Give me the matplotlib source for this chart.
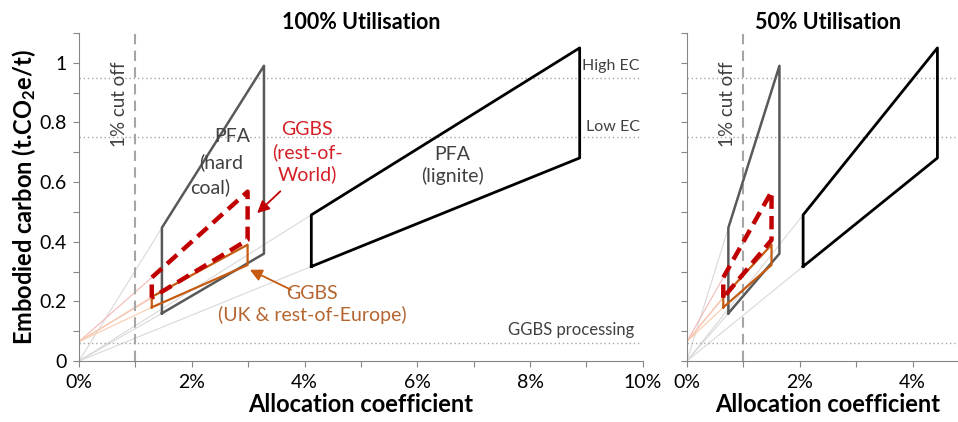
import matplotlib
matplotlib.use("Agg")
import matplotlib.pyplot as plt
from matplotlib.ticker import MultipleLocator, FuncFormatter

plt.rcParams['font.family'] = ['Lato', 'DejaVu Sans']
plt.rcParams['mathtext.default'] = 'regular'

# Data (allocation coefficient in %, embodied carbon in tCO2e/t)
# 100% utilisation
coal_x_100 = [1.47, 1.47, 3.28, 3.28]
coal_y_100 = [0.16, 0.447, 0.99, 0.36]
lignite_x_100 = [4.12, 4.12, 8.88, 8.88]
lignite_y_100 = [0.317, 0.49, 1.05, 0.681]
ggbs_row_x_100 = [1.29, 1.29, 2.99, 2.99]
ggbs_row_y_100 = [0.212, 0.28, 0.568, 0.406]
ggbs_uk_x_100 = [1.29, 1.29, 2.99, 2.99]
ggbs_uk_y_100 = [0.18, 0.215, 0.39, 0.322]

# 50% utilisation
coal_x_50 = [0.735, 0.735, 1.64, 1.64]
coal_y_50 = [0.16, 0.447, 0.99, 0.36]
lignite_x_50 = [2.06, 2.06, 4.44, 4.44]
lignite_y_50 = [0.317, 0.49, 1.05, 0.681]
ggbs_row_x_50 = [0.645, 0.645, 1.5, 1.5]
ggbs_row_y_50 = [0.212, 0.28, 0.568, 0.406]
ggbs_uk_x_50 = [0.645, 0.645, 1.5, 1.5]
ggbs_uk_y_50 = [0.18, 0.215, 0.39, 0.322]

# reference levels
high_ec = 0.95
low_ec = 0.75
ggbs_processing = 0.06
ggbs_origin = 0.065
cut_off = 1.0

GREY = "#595959"
RED = "#C00000"
ORANGE = "#C55A11"
REF = "#A6A6A6"
AX = "#868686"
TXT = "#404040"


def closed(xs, ys):
    return list(xs) + [xs[0]], list(ys) + [ys[0]]


def panel(ax, cx, cy, lx, ly, rx, ry, ux, uy, xmax):
    # faint rays to the left corners
    for x0, y0, xs, ys, c in [(0, 0, cx, cy, "#D9D9D9"), (0, 0, lx, ly, "#D9D9D9"),
                              (0, ggbs_origin, rx, ry, "#F4B8B8"),
                              (0, ggbs_origin, ux, uy, "#F8CBAD")]:
        for i in range(2):
            ax.plot([x0, xs[i]], [y0, ys[i]], color=c, lw=0.8, zorder=1)

    for y in [high_ec, low_ec, ggbs_processing]:
        ax.plot([0, xmax], [y, y], color=REF, lw=1, ls=(0, (1, 2)), zorder=1)
    ax.axvline(cut_off, color=REF, lw=1.5, ls=(0, (5, 3)), zorder=1)

    x, y = closed(cx, cy)
    ax.plot(x, y, color=GREY, lw=1.8, zorder=3)
    x, y = closed(lx, ly)
    ax.plot(x, y, color="black", lw=2, zorder=3)
    x, y = closed(ux, uy)
    ax.plot(x, y, color=ORANGE, lw=1.6, zorder=3)
    x, y = closed(rx, ry)
    ax.plot(x, y, color=RED, lw=3.2, ls=(0, (3, 1.6)), zorder=4)

    ax.set_ylim(0, 1.1)
    ax.yaxis.set_major_locator(MultipleLocator(0.1))
    ax.xaxis.set_major_locator(MultipleLocator(1))
    for s in ["top", "right"]:
        ax.spines[s].set_visible(False)
    for s in ["left", "bottom"]:
        ax.spines[s].set_color(AX)
    ax.tick_params(direction="out", length=4, color=AX, labelsize=14,
                   labelcolor="black", pad=5)
    ax.xaxis.set_major_formatter(FuncFormatter(
        lambda v, p: "%d%%" % round(v) if round(v) % 2 == 0 else ""))
    ax.set_xlabel("Allocation coefficient", fontsize=17, fontweight="bold",
                  labelpad=2)
    ax.text(cut_off - 0.28, 0.86, "1% cut off", rotation=90, ha="center",
            va="center", fontsize=13.5, color=TXT)


fig = plt.figure(figsize=(9.58, 4.22), dpi=100)
ax1 = fig.add_axes([0.0825, 0.1445, 0.5885, 0.7773])
ax2 = fig.add_axes([0.717, 0.1445, 0.2945, 0.7773])

panel(ax1, coal_x_100, coal_y_100, lignite_x_100, lignite_y_100,
      ggbs_row_x_100, ggbs_row_y_100, ggbs_uk_x_100, ggbs_uk_y_100, 9.95)
panel(ax2, coal_x_50, coal_y_50, lignite_x_50, lignite_y_50,
      ggbs_row_x_50, ggbs_row_y_50, ggbs_uk_x_50, ggbs_uk_y_50, 5)

ax1.set_xlim(0, 10)
ax2.set_xlim(0, 5)
ax1.yaxis.set_major_formatter(FuncFormatter(
    lambda v, p: ("%g" % round(v, 1)) if round(v * 10) % 2 == 0 else ""))
ax2.yaxis.set_major_formatter(FuncFormatter(lambda v, p: ""))
ax1.set_ylabel("Embodied carbon (t.CO$_2$e/t)", fontsize=17, fontweight="bold",
               labelpad=1)
ax1.set_title("100% Utilisation", fontsize=15.5, fontweight="bold", pad=2)
ax2.set_title("50% Utilisation", fontsize=15.5, fontweight="bold", pad=2)

# labels on the 100% panel
fs = 14
ax1.text(2.72, 0.752, "PFA", ha="center", va="center", fontsize=fs, color=TXT)
ax1.text(2.52, 0.668, "(hard", ha="center", va="center", fontsize=fs, color=TXT)
ax1.text(2.32, 0.584, "coal)", ha="center", va="center", fontsize=fs, color=TXT)
ax1.text(6.62, 0.655, "PFA\n(lignite)", ha="center", va="center", fontsize=fs,
         color=TXT, linespacing=1.3)
ax1.text(4.05, 0.70, "GGBS\n(rest-of-\nWorld)", ha="center", va="center",
         fontsize=fs, color="#D42027", linespacing=1.3)
ax1.text(4.13, 0.19, "GGBS\n(UK & rest-of-Europe)", ha="center", va="center",
         fontsize=fs, color="#B5652F", linespacing=1.3)
ax1.text(9.95, 0.988, "High EC", ha="right", va="center", fontsize=11.5, color=TXT)
ax1.text(9.95, 0.786, "Low EC", ha="right", va="center", fontsize=11.5, color=TXT)
ax1.text(9.85, 0.104, "GGBS processing", ha="right", va="center", fontsize=12,
         color=TXT)

ax1.annotate("", xy=(3.16, 0.496), xytext=(3.57, 0.569),
             arrowprops=dict(arrowstyle="-|>", color=RED, lw=1.3,
                             mutation_scale=18, shrinkA=0, shrinkB=0))
ax1.annotate("", xy=(3.03, 0.306), xytext=(3.76, 0.239),
             arrowprops=dict(arrowstyle="-|>", color=ORANGE, lw=1.3,
                             mutation_scale=18, shrinkA=0, shrinkB=0))

fig.savefig("out.png", dpi=100)
